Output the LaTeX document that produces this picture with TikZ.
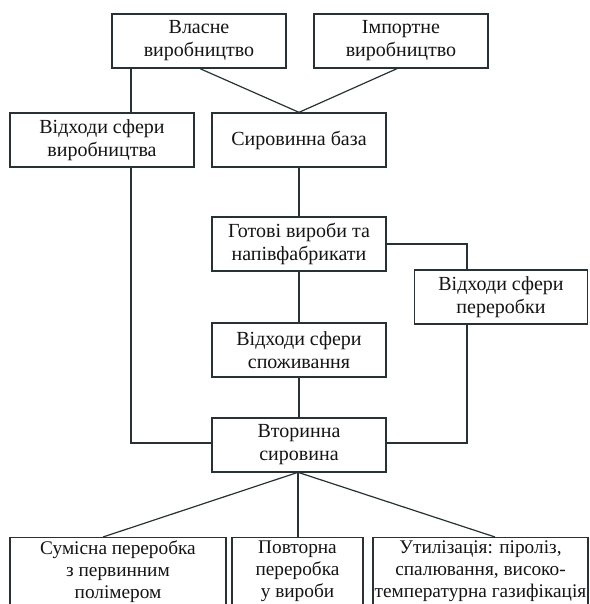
\documentclass[tikz,border=0pt]{standalone}
\usepackage{fontspec}
\setmainfont{Liberation Serif}
\definecolor{ln}{RGB}{40,50,52}
\definecolor{tx}{RGB}{20,20,20}
\begin{document}
\begin{tikzpicture}[x=1pt,y=-1pt,
  box/.style={draw=ln,line width=1.3pt,rectangle,align=center,text=tx,
    font=\fontsize{20}{23}\selectfont,inner sep=2pt,minimum height=54pt},
  bbox/.style={draw=ln,line width=1.3pt,rectangle,align=center,text=tx,
    font=\fontsize{19.3}{22}\selectfont,inner xsep=1pt,inner ysep=3pt,anchor=north},
  conn/.style={draw=ln,line width=1.2pt}]
\useasboundingbox (0,0) rectangle (589,604);
\clip (0,0) rectangle (589,604);
\fill[white] (0,0) rectangle (589,604);

\node[box,minimum width=174pt] (vlasne) at (199,41) {Власне\\виробництво};
\node[box,minimum width=174pt] (import) at (401,41) {Імпортне\\виробництво};
\node[box,minimum width=184pt] (vyr) at (102,140) {Відходи сфери\\виробництва};
\node[box,minimum width=174pt] (syr) at (299,140) {Сировинна база};
\node[box,minimum width=174pt] (gotovi) at (299,244) {Готові вироби та\\напівфабрикати};
\node[box,minimum width=173pt] (pererob) at (501,297) {Відходи сфери\\переробки};
\node[box,minimum width=174pt] (spozh) at (299,350) {Відходи сфери\\споживання};
\node[box,minimum width=174pt] (vtor) at (299,445) {Вторинна\\сировина};

\node[bbox,minimum width=216pt] (sum) at (118,537) {Сумісна переробка\\з первинним\\полімером\\\strut};
\node[bbox,minimum width=131pt] (povt) at (297.5,537) {Повторна\\переробка\\у вироби\\\strut};
\node[bbox,minimum width=215pt] (util) at (480.5,537) {Утилізація: піроліз,\\спалювання, високо-\\температурна газифікація\\\strut};

\draw[conn] ([xshift=-68pt]vlasne.south) -- ([xshift=-68pt]vlasne.south |- vyr.north);
\draw[conn] ([xshift=1pt]vlasne.south) -- (syr.north);
\draw[conn] ([xshift=-4pt]import.south) -- (syr.north);
\draw[conn] ([xshift=29pt]vyr.south) |- ([yshift=2pt]vtor.west);
\draw[conn] (syr.south) -- (gotovi.north);
\draw[conn] (gotovi.south) -- (spozh.north);
\draw[conn] (spozh.south) -- (vtor.north);
\draw[conn] (gotovi.east) -| ([xshift=-34pt]pererob.north);
\draw[conn] ([xshift=-34pt]pererob.south) |- ([yshift=2pt]vtor.east);
\draw[conn] ([xshift=-2pt]vtor.south) -- ([xshift=-15pt]sum.north);
\draw[conn] ([xshift=-1pt]vtor.south) -- ([xshift=0.5pt]povt.north);
\draw[conn] (vtor.south) -- ([xshift=14.5pt]util.north);
\end{tikzpicture}
\end{document}
